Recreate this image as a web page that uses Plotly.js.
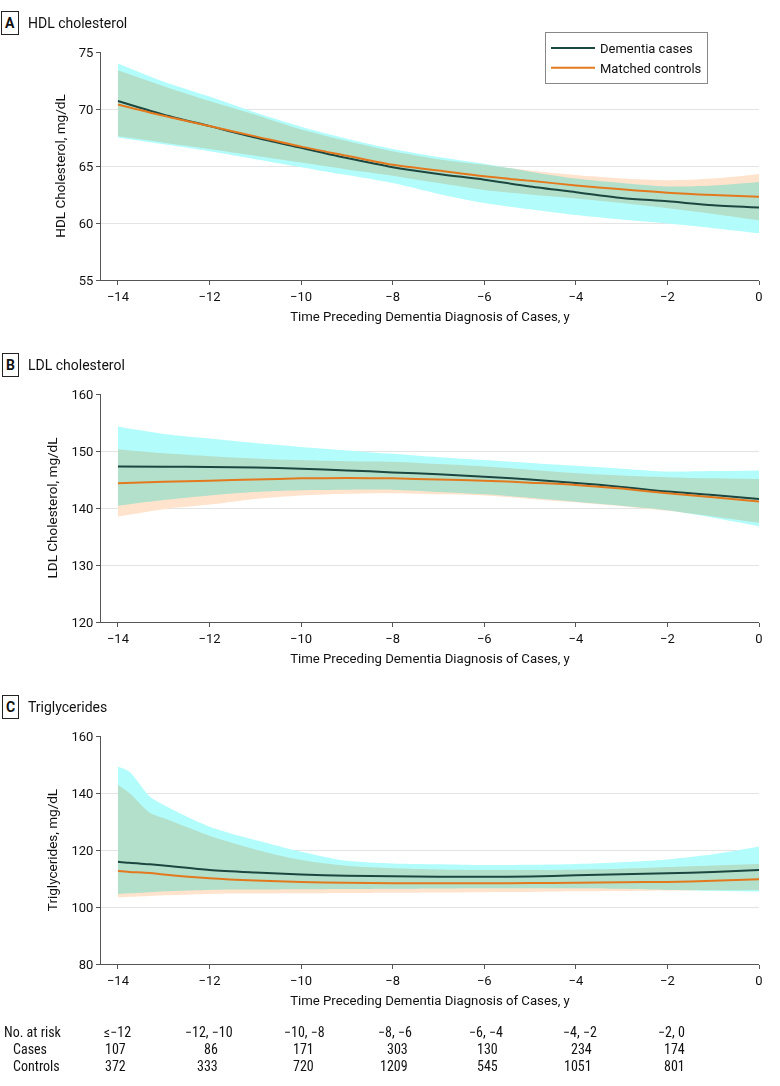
<!DOCTYPE html>
<html>
<head>
<meta charset="utf-8">
<script src="https://cdn.plot.ly/plotly-3.0.1.min.js"></script>
<style>
  body { margin: 0; background: #fff; }
  #chart { width: 780px; height: 1086px; }
  /* bands overlap like print inks: cyan x peach = green */
  .js-fill { mix-blend-mode: multiply; }
</style>
</head>
<body>
<div id="chart"></div>
<script>
// Years preceding diagnosis
let years = [-14, -13, -12, -11, -10, -9, -8, -7, -6, -5, -4, -3, -2, -1, 0];

// A - HDL cholesterol, mg/dL
let hdlCases = [70.7, 69.5, 68.5, 67.5, 66.6, 65.7, 64.9, 64.3, 63.8, 63.2, 62.7, 62.2, 61.9, 61.55, 61.35];
let hdlCasesLo = [67.5, 66.9, 66.3, 65.6, 64.9, 64.2, 63.5, 62.55, 61.75, 61.2, 60.7, 60.3, 59.95, 59.55, 59.1];
let hdlCasesHi = [74.0, 72.4, 71.1, 69.7, 68.45, 67.4, 66.5, 65.8, 65.2, 64.5, 63.9, 63.5, 63.2, 63.3, 63.6];
let hdlControls = [70.4, 69.4, 68.5, 67.6, 66.7, 65.9, 65.1, 64.6, 64.1, 63.7, 63.3, 62.95, 62.65, 62.45, 62.3];
let hdlControlsLo = [67.6, 67.05, 66.5, 65.9, 65.3, 64.7, 64.15, 63.5, 62.9, 62.5, 62.15, 61.75, 61.3, 60.8, 60.25];
let hdlControlsHi = [73.4, 72.0, 70.7, 69.5, 68.2, 67.2, 66.3, 65.6, 65.1, 64.6, 64.2, 63.9, 63.75, 63.9, 64.3];

// B - LDL cholesterol, mg/dL
let ldlCases = [147.3, 147.25, 147.2, 147.1, 146.9, 146.6, 146.25, 145.9, 145.5, 145.0, 144.4, 143.7, 142.9, 142.3, 141.6];
let ldlCasesLo = [140.4, 141.4, 142.2, 142.8, 143.1, 143.2, 143.2, 142.8, 142.4, 141.8, 141.1, 140.4, 139.6, 138.3, 136.8];
let ldlCasesHi = [154.3, 153.0, 152.2, 151.4, 150.7, 150.1, 149.5, 148.9, 148.4, 147.9, 147.4, 146.9, 146.4, 146.5, 146.6];
let ldlControls = [144.35, 144.6, 144.8, 145.0, 145.2, 145.25, 145.2, 145.0, 144.8, 144.45, 144.05, 143.4, 142.6, 141.9, 141.15];
let ldlControlsLo = [138.5, 139.8, 140.6, 141.6, 142.2, 142.5, 142.6, 142.4, 142.2, 141.6, 141.0, 140.3, 139.5, 138.5, 137.4];
let ldlControlsHi = [150.3, 149.6, 149.1, 148.7, 148.4, 148.2, 148.1, 147.7, 147.3, 146.7, 146.1, 145.7, 145.4, 145.2, 145.1];

// C - Triglycerides, mg/dL (extra points at the steep start)
let tgYears = [-14, -13.75, -13.3, -13, -12, -11, -10, -9, -8, -7, -6, -5, -4, -3, -2, -1, 0];
let tgCases = [115.9, 115.5, 115.0, 114.6, 113.0, 112.1, 111.4, 111.0, 110.8, 110.6, 110.6, 110.7, 111.1, 111.5, 111.8, 112.3, 113.0];
let tgCasesLo = [104.6, 104.8, 105.2, 105.5, 106.0, 106.1, 106.2, 106.3, 106.4, 106.5, 106.6, 106.6, 106.6, 106.4, 106.0, 105.7, 105.4];
let tgCasesHi = [149.2, 147.5, 138.7, 135.8, 128.2, 123.5, 119.4, 116.2, 115.3, 115.0, 114.7, 114.8, 115.1, 115.7, 116.7, 118.5, 121.2];
let tgControls = [112.6, 112.3, 111.9, 111.4, 110.1, 109.3, 108.8, 108.5, 108.3, 108.3, 108.3, 108.4, 108.5, 108.7, 108.8, 109.2, 109.7];
let tgControlsLo = [103.4, 103.6, 103.9, 104.1, 104.6, 104.7, 104.8, 104.9, 105.0, 105.1, 105.2, 105.3, 105.5, 105.6, 105.8, 105.9, 106.0];
let tgControlsHi = [142.8, 140.0, 133.0, 131.2, 125.0, 120.2, 116.5, 114.5, 113.6, 113.2, 113.0, 113.0, 113.1, 113.4, 114.0, 114.6, 115.1];

// No. at risk table
let riskBins = ["≤−12", "−12, −10", "−10, −8", "−8, −6", "−6, −4", "−4, −2", "−2, 0"];
let riskCases = [107, 86, 171, 303, 130, 234, 174];
let riskControls = [372, 333, 720, 1209, 545, 1051, 801];

let caseColor = "#1c4640";
let ctrlColor = "#e3791f";
let caseBand = "#b3fcfc";
let ctrlBand = "#ffe3cd";
let font = "Roboto, 'Liberation Sans', sans-serif";
let narrow = "'Liberation Sans Narrow', 'Roboto Condensed', 'DejaVu Sans Condensed', Roboto, sans-serif";

// pixel -> paper helpers (plot area spans x 101..759, y 52..964)
let px = x => (x - 101) / 658;
let py = y => (964 - y) / 912;

function band(xs, lo, hi, color, xa, ya) {
    return [
        { x: xs, y: lo, xaxis: xa, yaxis: ya, mode: "lines", line: { width: 0, shape: "spline", smoothing: 0.8 },
          showlegend: false, hoverinfo: "skip" },
        { x: xs, y: hi, xaxis: xa, yaxis: ya, mode: "lines", line: { width: 0, shape: "spline", smoothing: 0.8 },
          fill: "tonexty", fillcolor: color, showlegend: false, hoverinfo: "skip" }
    ];
}

function curve(xs, ys, color, name, xa, ya, legend) {
    return { x: xs, y: ys, xaxis: xa, yaxis: ya, mode: "lines", name: name,
             line: { color: color, width: 2, shape: "spline", smoothing: 0.8 }, showlegend: legend };
}

let data = [].concat(
    band(years, hdlCasesLo, hdlCasesHi, caseBand, "x", "y"),
    band(years, hdlControlsLo, hdlControlsHi, ctrlBand, "x", "y"),
    band(years, ldlCasesLo, ldlCasesHi, caseBand, "x2", "y2"),
    band(years, ldlControlsLo, ldlControlsHi, ctrlBand, "x2", "y2"),
    band(tgYears, tgCasesLo, tgCasesHi, caseBand, "x3", "y3"),
    band(tgYears, tgControlsLo, tgControlsHi, ctrlBand, "x3", "y3"),
    [
        curve(years, hdlCases, caseColor, "Dementia cases", "x", "y", true),
        curve(years, hdlControls, ctrlColor, "Matched controls", "x", "y", true),
        curve(years, ldlCases, caseColor, "Dementia cases", "x2", "y2", false),
        curve(years, ldlControls, ctrlColor, "Matched controls", "x2", "y2", false),
        curve(tgYears, tgCases, caseColor, "Dementia cases", "x3", "y3", false),
        curve(tgYears, tgControls, ctrlColor, "Matched controls", "x3", "y3", false)
    ]
);

let xTitle = "Time Preceding Dementia Diagnosis of Cases, y";

function xAxis(anchor) {
    return {
        anchor: anchor, range: [-14.37, 0], tickvals: [-14, -12, -10, -8, -6, -4, -2, 0],
        showline: true, linecolor: "#555", linewidth: 1, ticks: "outside", ticklen: 4, tickcolor: "#555",
        showgrid: false, zeroline: false, tickfont: { size: 13, color: "#111" },
        title: { text: xTitle, font: { size: 13.2, color: "#111" }, standoff: 9 }
    };
}

function yAxis(anchor, domain, range, dtick, title) {
    return {
        anchor: anchor, domain: domain, range: range, dtick: dtick,
        showline: true, linecolor: "#555", linewidth: 1, ticks: "outside", ticklen: 4, tickcolor: "#555",
        showgrid: true, gridcolor: "#e4e4e4", gridwidth: 1, zeroline: false,
        tickfont: { size: 13, color: "#111" },
        title: { text: title, font: { size: 13.5, color: "#111" }, standoff: 10 }
    };
}

let annotations = [];

// panel letters and headings
let panels = [["A", "HDL cholesterol", 23], ["B", "LDL cholesterol", 365], ["C", "Triglycerides", 707]];
panels.forEach(p => {
    annotations.push({ xref: "paper", yref: "paper", x: px(10), y: py(p[2]), text: "<b>" + p[0] + "</b>",
        showarrow: false, xanchor: "center", yanchor: "middle", font: { size: 14, color: "#111" },
        bordercolor: "#222", borderwidth: 1, borderpad: 3, bgcolor: "#fff" });
    annotations.push({ xref: "paper", yref: "paper", x: px(26), y: py(p[2]), text: p[1],
        showarrow: false, xanchor: "left", yanchor: "middle", font: { size: 14, color: "#111" } });
});

// risk table
let binCenters = [117, 209, 304, 395, 486, 580, 671];
let numRight = [128, 220, 316, 410, 500, 594, 687];
let rowY = [1032, 1049, 1066];
let tfont = { size: 14, color: "#111", family: narrow };
annotations.push({ xref: "paper", yref: "paper", x: px(2), y: py(rowY[0]), text: "No. at risk",
    showarrow: false, xanchor: "left", yanchor: "middle", font: tfont });
annotations.push({ xref: "paper", yref: "paper", x: px(11), y: py(rowY[1]), text: "Cases",
    showarrow: false, xanchor: "left", yanchor: "middle", font: tfont });
annotations.push({ xref: "paper", yref: "paper", x: px(11), y: py(rowY[2]), text: "Controls",
    showarrow: false, xanchor: "left", yanchor: "middle", font: tfont });
riskBins.forEach((b, i) => {
    annotations.push({ xref: "paper", yref: "paper", x: px(binCenters[i]), y: py(rowY[0]), text: b,
        showarrow: false, xanchor: "center", yanchor: "middle", font: tfont });
    annotations.push({ xref: "paper", yref: "paper", x: px(numRight[i]), y: py(rowY[1]), text: String(riskCases[i]),
        showarrow: false, xanchor: "right", yanchor: "middle", font: tfont });
    annotations.push({ xref: "paper", yref: "paper", x: px(numRight[i]), y: py(rowY[2]), text: String(riskControls[i]),
        showarrow: false, xanchor: "right", yanchor: "middle", font: tfont });
});

let layout = {
    width: 780,
    height: 1086,
    margin: { l: 101, r: 21, t: 52, b: 122 },
    paper_bgcolor: "#fff",
    plot_bgcolor: "#fff",
    font: { family: font, size: 13, color: "#111" },
    showlegend: true,
    legend: {
        x: px(545), y: py(32), xanchor: "left", yanchor: "top", traceorder: "normal",
        bordercolor: "#888", borderwidth: 1, bgcolor: "#fff", itemwidth: 44,
        font: { size: 13, color: "#111" }, tracegroupgap: 0
    },
    xaxis: xAxis("y"),
    xaxis2: xAxis("y2"),
    xaxis3: xAxis("y3"),
    yaxis: yAxis("x", [0.75, 1], [55, 75], 5, "HDL Cholesterol, mg/dL"),
    yaxis2: yAxis("x2", [0.375, 0.625], [120, 160], 10, "LDL Cholesterol, mg/dL"),
    yaxis3: yAxis("x3", [0, 0.25], [80, 160], 20, "Triglycerides, mg/dL"),
    annotations: annotations
};

Plotly.newPlot("chart", data, layout, { displayModeBar: false, staticPlot: true });
</script>
</body>
</html>
